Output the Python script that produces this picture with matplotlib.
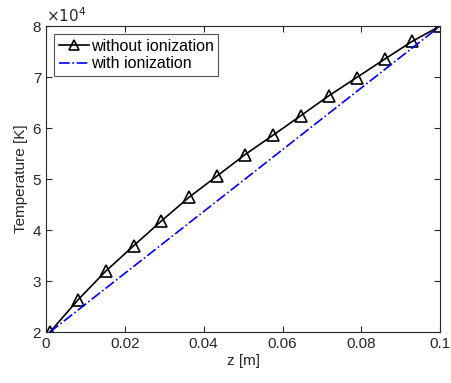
import matplotlib.pyplot as plt

plt.rcParams['font.family'] = ['Liberation Sans', 'DejaVu Sans']

# temperature profile along z
z = [0.001, 0.0081, 0.0151, 0.0222, 0.0293, 0.0364, 0.0434, 0.0505,
     0.0576, 0.0646, 0.0717, 0.0788, 0.0859, 0.0929, 0.1]
temp_no_ion = [2.0e4, 2.63e4, 3.19e4, 3.69e4, 4.18e4, 4.65e4, 5.06e4, 5.48e4,
               5.86e4, 6.24e4, 6.63e4, 6.99e4, 7.35e4, 7.70e4, 8.0e4]
z_ion = [0.001, 0.1]
temp_ion = [2.0e4, 8.0e4]

fig = plt.figure(figsize=(4.51, 3.83), dpi=100)
ax = fig.add_axes([0.102, 0.133, 0.874, 0.799])

ax.plot(z, temp_no_ion, color="black", lw=1.2, marker="^", ms=9,
        mfc="none", mec="black", mew=1.2, label="without ionization")
ax.plot(z_ion, temp_ion, color="blue", lw=1.2, ls="-.", label="with ionization")

ax.set_xlim(0, 0.1)
ax.set_ylim(2e4, 8e4)
ax.set_xticks([0, 0.02, 0.04, 0.06, 0.08, 0.1])
ax.set_xticklabels(["0", "0.02", "0.04", "0.06", "0.08", "0.1"])
ax.set_yticks([2e4, 3e4, 4e4, 5e4, 6e4, 7e4, 8e4])
ax.set_yticklabels(["2", "3", "4", "5", "6", "7", "8"])
ax.text(0.0, 1.005, r"$\times10^4$", transform=ax.transAxes, fontsize=11,
        color="0.15", va="bottom", ha="left")

ax.tick_params(direction="in", top=True, right=True, labelsize=11,
               colors="0.15", length=4)
for s in ax.spines.values():
    s.set_color("0.15")
    s.set_linewidth(0.8)

ax.set_xlabel("z [m]", fontsize=11, color="0.15", labelpad=2)
ax.set_ylabel("Temperature [K]", fontsize=11, color="0.15", labelpad=3)

leg = ax.legend(loc="upper left", fontsize=11.5, frameon=True, fancybox=False,
                edgecolor="0.15", handlelength=1.9, handletextpad=0.1,
                borderaxespad=0.5, borderpad=0.3, labelspacing=0.15,
                markerscale=0.8)
leg.get_frame().set_linewidth(0.8)

fig.savefig("out.png", dpi=100)
